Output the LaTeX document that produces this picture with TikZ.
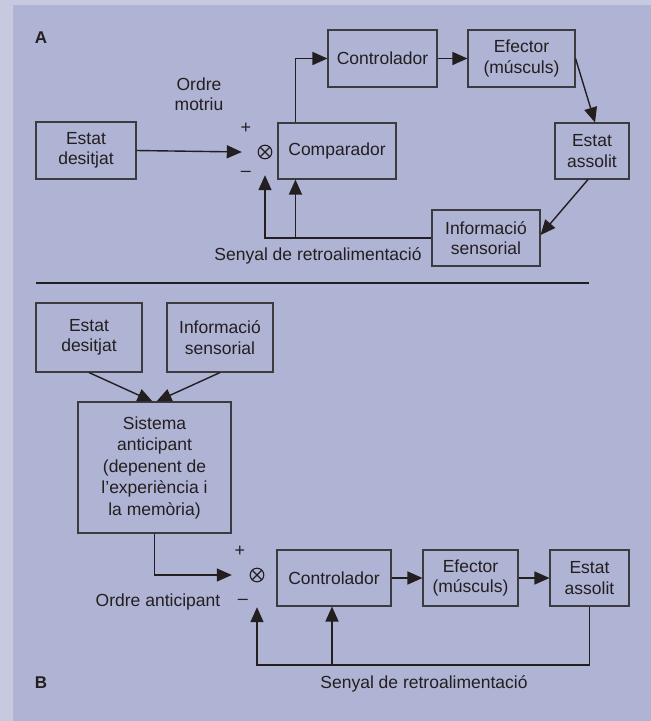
\documentclass[tikz,border=0pt]{standalone}
\usepackage{fontspec}
\setmainfont{Liberation Sans}
\usetikzlibrary{arrows.meta,calc}
\definecolor{outerbg}{RGB}{198,201,223}
\definecolor{innerbg}{RGB}{175,179,212}
\definecolor{ink}{RGB}{35,31,32}
\definecolor{boxline}{RGB}{60,60,64}
\tikzset{
  blk/.style={draw=boxline,line width=1.1pt,inner sep=0pt,align=center,text=ink,
    font=\fontsize{17.5}{20.5}\selectfont},
  lbl/.style={inner sep=0pt,align=center,text=ink,font=\fontsize{17.5}{20.5}\selectfont},
  sgn/.style={inner sep=0pt,text=ink,font=\fontsize{18}{18}\selectfont},
  panel/.style={inner sep=0pt,text=ink,font=\fontsize{17}{17}\selectfont\bfseries},
  summ/.style={inner sep=0pt},
  arr/.style={draw=ink,line width=1.4pt,-{Triangle[length=15pt,width=13pt]}},
  ring/.style={draw=ink,line width=1.1pt}
}
\newcommand{\sumsign}[1]{%
  \draw[ring] (#1.center) circle[radius=6.8pt];
  \draw[ring] ($(#1.center)+(-4.8,-4.8)$) -- ($(#1.center)+(4.8,4.8)$);
  \draw[ring] ($(#1.center)+(-4.8,4.8)$) -- ($(#1.center)+(4.8,-4.8)$);
}
\begin{document}
\begin{tikzpicture}[x=1pt,y=-1pt]
\fill[outerbg] (0,0) rectangle (651,721);
\fill[innerbg] (13,5) rectangle (651,721);
\useasboundingbox (0,0) rectangle (651,721);

% ---------- Part A ----------
\node[panel] (labA) at (41,38) {A};
\node[blk,minimum width=100pt,minimum height=57pt] (desA) at (86,150.5) {Estat\\desitjat};
\node[summ,minimum width=46pt,minimum height=46pt] (sumA) at (265,152) {};
\sumsign{sumA}
\node[blk,minimum width=118pt,minimum height=56pt] (compA) at (337,151) {Comparador};
\node[blk,minimum width=109pt,minimum height=57pt] (ctrlA) at (382.5,58.5) {Controlador};
\node[blk,minimum width=107pt,minimum height=57pt] (effA) at (521.5,58.5) {Efector\\(músculs)};
\node[blk,minimum width=74pt,minimum height=56pt] (assA) at (592,151) {Estat\\assolit};
\node[blk,minimum width=108pt,minimum height=56pt] (infA) at (486,238) {Informació\\sensorial};
\node[lbl] (ordA) at (199,94) {Ordre\\motriu};
\node[sgn] (plusA) at (246,128) {+};
\node[sgn] (minA) at (246,174) {–};
\node[lbl] (senA) at (318,256) {Senyal de retroalimentació};

\coordinate (cAn) at ([xshift=18]compA.north west);
\coordinate (cAs) at ([xshift=18]compA.south west);
\draw[arr] (desA.east) -- (sumA.west);
\draw[arr] (cAn) |- (ctrlA.west);
\draw[arr] (ctrlA.east) -- (effA.west);
\draw[arr] (effA.east) -- ([xshift=3]assA.north);
\draw[arr] ([xshift=-4]assA.south) -- ([yshift=3]infA.east);
\draw[arr] (infA.west) -| (sumA.south);
\draw[arr] (cAs |- infA.west) -- (cAs);

% separator
\coordinate (sepL) at (36,283);
\coordinate (sepR) at (589,283);
\draw[draw=ink,line width=2.6pt] (sepL) -- (sepR);

% ---------- Part B ----------
\node[blk,minimum width=106pt,minimum height=69pt] (desB) at (89,337.5) {Estat\\desitjat};
\node[blk,minimum width=106pt,minimum height=69pt] (infB) at (220,337.5) {Informació\\sensorial};
\node[blk,minimum width=153pt,minimum height=131pt,font=\fontsize{17.5}{21.5}\selectfont] (sisB) at (154.5,467.5)
  {Sistema\\anticipant\\(depenent de\\l’experiència i\\la memòria)};
\node[summ,minimum width=50pt,minimum height=64pt] (sumB) at (257,575) {};
\sumsign{sumB}
\node[blk,minimum width=114pt,minimum height=56pt] (ctrlB) at (334,578) {Controlador};
\node[blk,minimum width=95pt,minimum height=56pt] (effB) at (470.5,578) {Efector\\(músculs)};
\node[blk,minimum width=79pt,minimum height=56pt] (assB) at (589.5,578) {Estat\\assolit};
\node[sgn] (plusB) at (240,551) {+};
\node[sgn] (minB) at (243,602) {–};
\node[lbl] (ordB) at (158,602) {Ordre anticipant};
\node[lbl] (senB) at (424,684) {Senyal de retroalimentació};
\node[panel] (labB) at (41,683) {B};

\draw[arr] (desB.south) -- ([xshift=-2]sisB.north);
\draw[arr] (infB.south) -- ([xshift=2]sisB.north);
\draw[arr] (sisB.south) |- (sumB.west);
\draw[arr] (ctrlB.east) -- (effB.west);
\draw[arr] (effB.east) -- (assB.west);
\coordinate (fbB) at (257,665);
\draw[arr] (assB.south) |- (fbB) -- (sumB.south);
\draw[arr] ([xshift=-2]ctrlB.south |- fbB) -- ([xshift=-2]ctrlB.south);
\end{tikzpicture}
\end{document}
